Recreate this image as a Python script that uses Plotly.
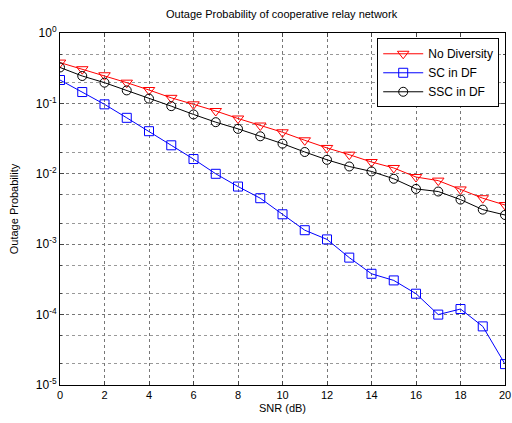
import plotly.graph_objects as go

snr = list(range(0, 21))
no_diversity = [0.38, 0.306, 0.251, 0.197, 0.155, 0.120, 0.097, 0.078, 0.061, 0.0485,
                0.0389, 0.0299, 0.0233, 0.0187, 0.0147, 0.0121, 0.0090, 0.0080, 0.0060, 0.0045, 0.0036]
sc_df = [0.215, 0.145, 0.097, 0.0624, 0.0403, 0.0254, 0.0162, 0.0100, 0.00659, 0.0045,
         0.00266, 0.00158, 0.00117, 0.000645, 0.00038, 0.000306, 0.000198, 0.0001, 0.00012, 6.8e-5, 1.98e-5]
ssc_df = [0.324, 0.245, 0.197, 0.153, 0.117, 0.0914, 0.0697, 0.0541, 0.0435, 0.0341,
          0.0268, 0.0204, 0.0158, 0.0127, 0.0108, 0.0085, 0.0061, 0.0056, 0.0043, 0.0031, 0.0026]
x_ticks = list(range(0, 21, 2))
y_ticks = [1e-5, 1e-4, 1e-3, 1e-2, 1e-1, 1]
y_tick_text = ["10<sup>-5</sup>", "10<sup>-4</sup>", "10<sup>-3</sup>", "10<sup>-2</sup>",
               "10<sup>-1</sup>", "10<sup>0</sup>"]

fig = go.Figure()
fig.add_trace(go.Scatter(x=snr, y=no_diversity, name="No Diversity", mode="lines+markers",
                         line=dict(color="#ff0000", width=1),
                         marker=dict(symbol="triangle-down-open", size=10, color="#ff0000", line=dict(width=1))))
fig.add_trace(go.Scatter(x=snr, y=sc_df, name="SC in DF", mode="lines+markers",
                         line=dict(color="#0000ff", width=1),
                         marker=dict(symbol="square-open", size=9, color="#0000ff", line=dict(width=1))))
fig.add_trace(go.Scatter(x=snr, y=ssc_df, name="SSC in DF", mode="lines+markers",
                         line=dict(color="#000000", width=1),
                         marker=dict(symbol="circle-open", size=9, color="#000000", line=dict(width=1))))

font = "Liberation Sans, Arial, sans-serif"
fig.update_layout(
    width=512, height=423,
    margin=dict(l=60, r=7, t=33, b=38),
    paper_bgcolor="white", plot_bgcolor="white",
    font=dict(family=font, size=11, color="black"),
    title=dict(text="Outage Probability of cooperative relay network", x=0.55, xanchor="center",
               y=0.967, yanchor="middle", font=dict(size=11, color="black")),
    showlegend=True,
    legend=dict(x=0.987, xanchor="right", y=0.985, yanchor="top", bgcolor="white",
                bordercolor="black", borderwidth=1, font=dict(size=12),
                tracegroupgap=0, itemwidth=40),
)
fig.update_xaxes(range=[0, 20], tickvals=x_ticks, ticks="inside", ticklen=4, mirror="allticks",
                 showline=True, linecolor="black", linewidth=1, automargin=False,
                 showgrid=True, gridcolor="#777777", griddash="dot", gridwidth=1,
                 zeroline=False,
                 title=dict(text="SNR (dB)", standoff=4, font=dict(size=11)),
                 tickfont=dict(size=11))
fig.update_yaxes(type="log", range=[-5, 0], tickvals=y_ticks, ticktext=y_tick_text,
                 ticks="inside", ticklen=4, mirror="allticks", automargin=False,
                 showline=True, linecolor="black", linewidth=1,
                 showgrid=True, gridcolor="#777777", griddash="dot", gridwidth=1,
                 minor=dict(ticks="inside", ticklen=2, showgrid=True, gridcolor="#999999",
                            griddash="dot", gridwidth=1),
                 zeroline=False,
                 title=dict(text="Outage Probability", standoff=14, font=dict(size=11)),
                 tickfont=dict(size=12))

fig.write_html("out.html", config={"displayModeBar": False})

# remove default browser body margin so the figure sits at the page origin
with open("out.html", "r", encoding="utf-8") as f:
    html = f.read()
html = html.replace("<head>", "<head><style>html,body{margin:0;padding:0;overflow:hidden;}</style>", 1)
with open("out.html", "w", encoding="utf-8") as f:
    f.write(html)
